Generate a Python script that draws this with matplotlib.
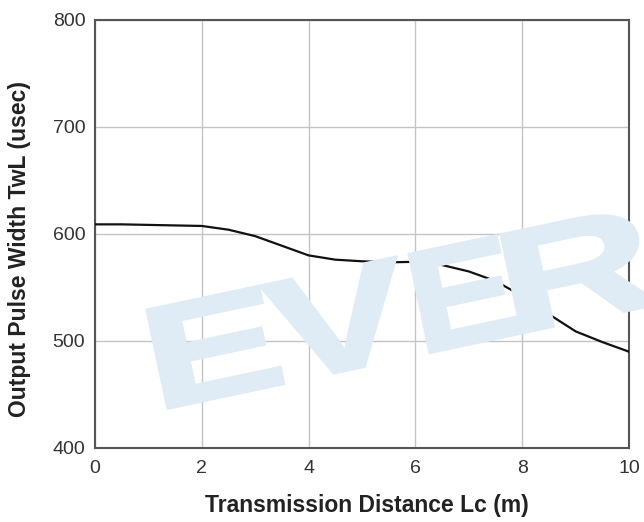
import matplotlib
matplotlib.use("Agg")
import matplotlib.pyplot as plt
from matplotlib.font_manager import FontProperties
from matplotlib.patches import PathPatch
from matplotlib.textpath import TextPath
from matplotlib.transforms import Affine2D

# curve
distance_m = [0, 0.5, 1, 1.5, 2, 2.5, 3, 3.5, 4, 4.5, 5, 5.5, 6, 6.5, 7, 7.5, 8, 8.5, 9, 9.5, 10]
pulse_usec = [609, 609, 608.5, 608, 607.5, 604, 598, 589, 580, 576, 574.5, 573.5, 574, 571, 565, 556, 542, 525, 509, 499, 490]

x_ticks = [0, 2, 4, 6, 8, 10]
y_ticks = [400, 500, 600, 700, 800]

plt.rcParams["font.family"] = ["Liberation Sans", "DejaVu Sans"]

fig = plt.figure(figsize=(6.44, 5.22), dpi=100)
ax = fig.add_axes([0.1475, 0.1418, 0.8292, 0.8199])
ax.patch.set_alpha(0)

# watermark: slanted "EVER" logo behind the plot.
# each letter: (start along baseline, ink width), inches; cap height 1.0 in
wm_font = FontProperties(family="Liberation Sans", weight="bold")
wm_letters = [("E", 0.0, 1.18), ("V", 1.16, 1.38), ("E", 2.68, 0.92), ("R", 3.62, 1.40)]
for ch, start, width in wm_letters:
    tp = TextPath((0, 0), ch, size=1, prop=wm_font)
    ext = tp.get_extents()
    tr = (Affine2D().translate(-ext.x0, -ext.y0)
          .scale(width / ext.width, 1.0 / ext.height)
          .translate(start, 0).rotate_deg(12).translate(1.68, 1.14)
          + fig.dpi_scale_trans)
    fig.patches.append(PathPatch(tp, transform=tr, facecolor="#dfebf5",
                                 edgecolor="#dfebf5", lw=2.5, zorder=0))

ax.plot(distance_m, pulse_usec, color="#111111", lw=1.6, zorder=3)

ax.set_xlim(0, 10)
ax.set_ylim(400, 800)
ax.set_xticks(x_ticks)
ax.set_yticks(y_ticks)
ax.grid(True, color="#c4c4c4", lw=1.0)
ax.tick_params(length=0, labelsize=14, colors="#333333")
ax.tick_params(axis="x", pad=9)
ax.tick_params(axis="y", pad=7)
for s in ax.spines.values():
    s.set_color("#555555")
    s.set_linewidth(1.5)

ax.set_xlabel("Transmission Distance Lc (m)", fontsize=16.5, fontweight="bold", color="#222222")
ax.set_ylabel("Output Pulse Width TwL (usec)", fontsize=16.5, fontweight="bold", color="#222222")
ax.xaxis.set_label_coords(0.51, -0.108)
ax.yaxis.set_label_coords(-0.119, 0.465)

fig.savefig("out.png", dpi=100)
